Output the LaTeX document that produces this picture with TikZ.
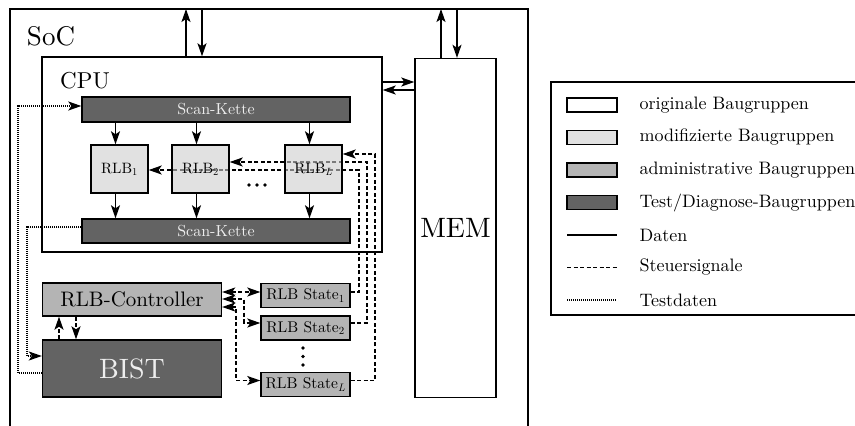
\documentclass[tikz,border=0pt]{standalone}
\usepackage{fontspec}
\setmainfont{lmroman10-regular.otf}[ItalicFont=lmroman10-italic.otf]
\usetikzlibrary{arrows.meta,calc}
\pgfdeclarelayer{bg}
\pgfsetlayers{bg,main}

\definecolor{modfill}{HTML}{E1E1E1}
\definecolor{modfillT}{HTML}{CDCDCD}
\definecolor{admfill}{HTML}{B4B4B4}
\definecolor{tstfill}{HTML}{636363}
\definecolor{tsttext}{HTML}{EEEEEE}

\tikzset{
  blk/.style={draw, line width=1.4pt, inner sep=0pt, anchor=center},
  origbox/.style={blk},
  modbox/.style={blk, fill=modfillT, fill opacity=0.6, text opacity=1,
    minimum width=57pt, minimum height=48pt, font=\fontsize{15}{18}\selectfont},
  admbox/.style={blk, fill=admfill},
  tstbox/.style={blk, fill=tstfill, text=tsttext},
  statebox/.style={admbox, minimum width=89pt, minimum height=24pt,
    font=\fontsize{15.5}{18}\selectfont},
  scanbox/.style={tstbox, minimum width=268pt, font=\fontsize{16}{18}\selectfont},
  dat/.style={line width=1.4pt},
  ctl/.style={line width=1.3pt, dash pattern=on 4pt off 2.5pt},
  tdat/.style={line width=1.3pt, dash pattern=on 1pt off 1pt},
  fwd/.style={-{Stealth[length=13pt, width=9pt, inset=3pt]}},
  both/.style={{Stealth[length=13pt, width=9pt, inset=3pt]}-{Stealth[length=13pt, width=9pt, inset=3pt]}},
  legtext/.style={anchor=west, font=\fontsize{18}{20}\selectfont},
  swatch/.style={blk, minimum width=50pt, minimum height=14pt},
  dot/.style={fill=black, circle, inner sep=0pt, minimum size=3.8pt}
}

\begin{document}
\begin{tikzpicture}[x=1pt, y=-1pt]
\useasboundingbox (0,0) rectangle (855,426);
\clip (0,0) rectangle (855,426);

% SoC frame (open towards the bottom)
\draw[dat] (10,440) -- (10,9) -- (528,9) -- (528,440);
\node[font=\fontsize{27}{30}\selectfont] (soclabel) at (51,36) {SoC};

% CPU and memory
\node[origbox, minimum width=340pt, minimum height=195pt] (cpu) at (212,154.5) {};
\node[font=\fontsize{23}{26}\selectfont] (cpulabel) at (85,81) {CPU};
\node[origbox, minimum width=81pt, minimum height=339pt,
      font=\fontsize{28}{30}\selectfont] (mem) at (455.5,228) {MEM};

% scan chains
\node[scanbox, minimum height=25pt] (scan1) at (216,109.5) {Scan-Kette};
\node[scanbox, minimum height=24pt] (scan2) at (216,231) {Scan-Kette};

% reconfigurable logic blocks
\node[modbox] (rlb1) at (119.5,169) {RLB\textsubscript{1}};
\node[modbox] (rlb2) at (200.5,169) {RLB\textsubscript{2}};
\node[modbox] (rlbL) at (313.5,169) {RLB\textsubscript{\textit{L}}};
\node[dot] (h1) at (249,185) {};
\node[dot] (h2) at (257,185) {};
\node[dot] (h3) at (265,185) {};

% controller, BIST and state registers
\node[admbox, minimum width=179pt, minimum height=33pt,
      font=\fontsize{21}{24}\selectfont] (ctrl) at (132,299.5) {RLB-Controller};
\node[tstbox, minimum width=179pt, minimum height=57pt,
      font=\fontsize{28}{30}\selectfont] (bist) at (132,368.5) {BIST};
\node[statebox] (st1) at (305.5,295.5) {RLB State\textsubscript{1}};
\node[statebox] (st2) at (305.5,328) {RLB State\textsubscript{2}};
\node[statebox] (stL) at (305.5,384.5) {RLB State\textsubscript{\textit{L}}};
\node[dot] (v1) at (303,348) {};
\node[dot] (v2) at (303,356.5) {};
\node[dot] (v3) at (303,365) {};

% external data ports
\coordinate (pa) at (186,9);
\coordinate (pb) at (202,9);
\coordinate (pc) at (441,9);
\coordinate (pd) at (457,9);
\draw[dat,fwd] (cpu.north -| pa) -- (pa);
\draw[dat,fwd] (pb) -- (cpu.north -| pb);
\draw[dat,fwd] (mem.north -| pc) -- (pc);
\draw[dat,fwd] (pd) -- (mem.north -| pd);

% CPU <-> memory
\coordinate (cm1) at (400,82);
\coordinate (cm2) at (400,90);
\draw[dat,fwd] (cpu.east |- cm1) -- (mem.west |- cm1);
\draw[dat,fwd] (mem.west |- cm2) -- (cpu.east |- cm2);

% scan chain data paths
\foreach \r in {rlb1,rlb2,rlbL} {
  \draw[dat,fwd] ($(\r.north |- scan1.south)+(-4,0)$) -- ($(\r.north)+(-4,0)$);
  \draw[dat,fwd] ($(\r.south)+(-4,0)$) -- ($(\r.south |- scan2.north)+(-4,0)$);
}

% control lines from the state registers to the logic blocks
\coordinate (k1) at (359,170);
\coordinate (k2) at (367,162);
\coordinate (k3) at (375,154);
\begin{pgfonlayer}{bg}
\draw[ctl,fwd] ($(st1.east)+(0,-3.5)$) -| (k1) -- (rlb1.east |- k1);
\draw[ctl,fwd] ($(st2.east)+(0,-5)$) -| (k2) -- (rlb2.east |- k2);
\draw[ctl,fwd] ($(stL.east)+(0,-4)$) -| (k3) -- (rlbL.east |- k3);
\end{pgfonlayer}

% controller <-> state registers
\coordinate (c1) at (240,292);
\coordinate (c2) at (244,299);
\coordinate (c3) at (236,307);
\draw[ctl,both] (ctrl.east |- c1) -- (st1.west |- c1);
\draw[ctl,both] (ctrl.east |- c2) -- (c2) |- ($(st2.west)+(0,-5)$);
\draw[ctl,both] (ctrl.east |- c3) -- (c3) |- ($(stL.west)+(0,-4)$);

% controller <-> BIST
\coordinate (b1) at (59,330);
\coordinate (b2) at (76,330);
\draw[ctl,fwd] (bist.north -| b1) -- (ctrl.south -| b1);
\draw[ctl,fwd] (ctrl.south -| b2) -- (bist.north -| b2);

% test data
\coordinate (t1) at (27,227);
\coordinate (t2) at (27,356);
\coordinate (t3) at (18,373);
\coordinate (t4) at (18,106);
\draw[tdat,fwd] (scan2.west |- t1) -- (t1) -- (t2) -- (bist.west |- t2);
\draw[tdat,fwd] (bist.west |- t3) -- (t3) -- (t4) -- (scan1.west |- t4);

% legend
\draw[dat] (551,82) rectangle (870,315);
\node[swatch, fill=white]   (l1) at (592,105)   {};
\node[swatch, fill=modfill] (l2) at (592,137.5) {};
\node[swatch, fill=admfill] (l3) at (592,170)   {};
\node[swatch, fill=tstfill] (l4) at (592,202.5) {};
\coordinate (l5a) at (567,235);   \coordinate (l5b) at (617,235);
\coordinate (l6a) at (567,267.5); \coordinate (l6b) at (617,267.5);
\coordinate (l7a) at (567,300);   \coordinate (l7b) at (617,300);
\draw[dat] (l5a) -- (l5b);
\draw[ctl] (l6a) -- (l6b);
\draw[tdat] (l7a) -- (l7b);
\node[legtext] (e1) at (636,105)   {originale Baugruppen};
\node[legtext] (e2) at (636,137.5) {modifizierte Baugruppen};
\node[legtext] (e3) at (636,170)   {administrative Baugruppen};
\node[legtext] (e4) at (636,202.5) {Test/Diagnose-Baugruppen};
\node[legtext] (e5) at (636,235)   {Daten};
\node[legtext] (e6) at (636,267.5) {Steuersignale};
\node[legtext] (e7) at (636,300)   {Testdaten};
\end{tikzpicture}
\end{document}
